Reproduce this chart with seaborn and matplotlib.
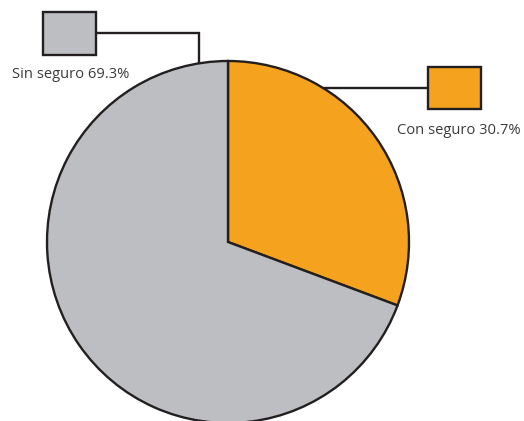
import numpy as np
import matplotlib
matplotlib.use("Agg")
import matplotlib.pyplot as plt
import seaborn as sns
from matplotlib.patches import Rectangle

# Health insurance coverage shares
categories = ["Con seguro", "Sin seguro"]
shares = [30.7, 69.3]
colors = ["#F5A21F", "#BDBEC1"]

sns.set_style("white")
plt.rcParams["font.family"] = ["Open Sans", "DejaVu Sans"]

W, H = 524, 421
fig = plt.figure(figsize=(W / 100, H / 100), dpi=100)
ax = fig.add_axes([0, 0, 1, 1])

edge = "#231F20"
lw = 1.7
cx, cy, r = 228, H - 242, 181

palette = sns.color_palette(colors)
ax.pie(shares, colors=palette, startangle=90, counterclock=False,
       center=(cx, cy), radius=r, frame=True,
       wedgeprops=dict(edgecolor=edge, linewidth=lw))
ax.set_xlim(0, W)
ax.set_ylim(0, H)
ax.set_aspect("equal")
ax.axis("off")

def circle_y(x):
    return cy + np.sqrt(r ** 2 - (x - cx) ** 2)

def circle_x(y):
    return cx + np.sqrt(r ** 2 - (y - cy) ** 2)

text_color = "#3a3a3a"

# Legend key for "Sin seguro"
ax.add_patch(Rectangle((43, H - 55), 53, 43, facecolor=palette[1],
                       edgecolor=edge, linewidth=lw))
ly = H - 33
ax.plot([96, 199, 199], [ly, ly, circle_y(199)], color=edge, lw=lw,
        solid_joinstyle="miter")
ax.text(71, H - 74, f"{categories[1]} {shares[1]}%", ha="center", va="center",
        fontsize=10.6, color=text_color)

# Legend key for "Con seguro"
ax.add_patch(Rectangle((428, H - 109), 53, 42, facecolor=palette[0],
                       edgecolor=edge, linewidth=lw))
ly2 = H - 88
ax.plot([circle_x(ly2), 428], [ly2, ly2], color=edge, lw=lw)
ax.text(459, H - 130, f"{categories[0]} {shares[0]}%", ha="center", va="center",
        fontsize=10.6, color=text_color)

fig.savefig("out.png", dpi=100, facecolor="white")
